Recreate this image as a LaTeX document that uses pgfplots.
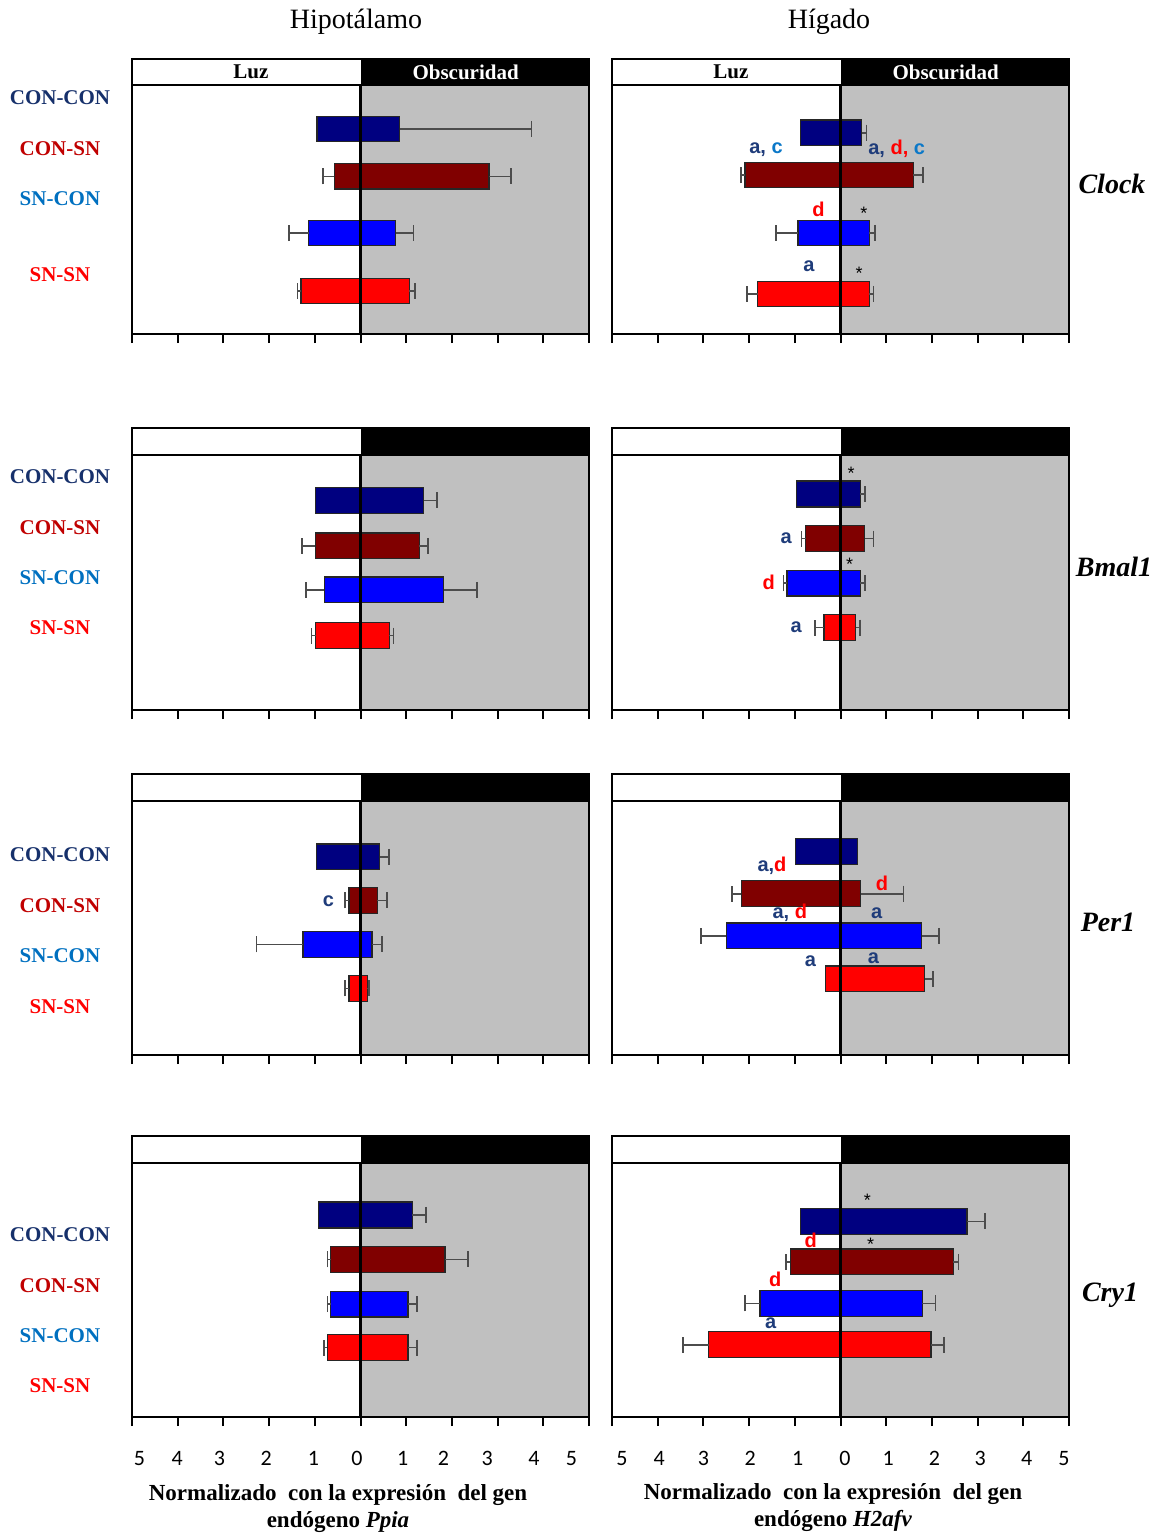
\documentclass[border=0pt]{standalone}
\usepackage{pgfplots}
\pgfplotsset{compat=1.18}
\usepackage{pgfplotstable}
\usepackage{fontspec}
\setmainfont{Liberation Serif}
\newfontfamily\lettersfont{Liberation Sans}
\newfontfamily\tickfont{Carlito}

% bar fills per group: CON-CON, CON-SN, SN-CON, SN-SN
\definecolor{bar0}{HTML}{000080}
\definecolor{bar1}{HTML}{800000}
\definecolor{bar2}{HTML}{0000FF}
\definecolor{bar3}{HTML}{FF0000}
% group name colours
\definecolor{labCC}{HTML}{16306B}
\definecolor{labCS}{HTML}{C00000}
\definecolor{labSC}{HTML}{0070C0}
\definecolor{labSS}{HTML}{FF0000}
% significance letters
\definecolor{letA}{HTML}{1F3C7A}
\definecolor{letC}{HTML}{0B78C8}
\definecolor{letD}{HTML}{FF0000}
\definecolor{darkbg}{HTML}{C0C0C0}

% header (Luz / Obscuridad) depth, in axis units (top = 0, bottom = 1)
\def\hb{0.095}

% columns: y position, light value, light error, dark value, dark error
\pgfplotstableread{
y L Le R Re
0.254 0.95 0.00 0.86 2.88
0.427 0.57 0.25 2.81 0.48
0.633 1.13 0.44 0.77 0.39
0.844 1.30 0.08 1.07 0.12
}\tHipClock
\pgfplotstableread{
y L Le R Re
0.268 0.88 0.00 0.46 0.11
0.422 2.09 0.09 1.59 0.21
0.632 0.93 0.48 0.63 0.12
0.854 1.81 0.24 0.63 0.09
}\tHigClock
\pgfplotstableread{
y L Le R Re
0.257 0.99 0.00 1.38 0.30
0.418 0.99 0.29 1.29 0.19
0.574 0.79 0.40 1.82 0.73
0.736 0.98 0.09 0.63 0.09
}\tHipBmal
\pgfplotstableread{
y L Le R Re
0.234 0.97 0.00 0.43 0.10
0.392 0.76 0.09 0.53 0.19
0.550 1.17 0.08 0.43 0.10
0.708 0.36 0.20 0.33 0.10
}\tHigBmal
\pgfplotstableread{
y L Le R Re
0.295 0.97 0.00 0.42 0.21
0.450 0.25 0.09 0.37 0.21
0.606 1.26 1.02 0.25 0.22
0.763 0.25 0.09 0.15 0.03
}\tHipPer
\pgfplotstableread{
y L Le R Re
0.275 0.98 0.00 0.37 0.00
0.426 2.17 0.21 0.44 0.94
0.576 2.50 0.55 1.78 0.38
0.729 0.32 0.00 1.84 0.18
}\tHigPer
\pgfplotstableread{
y L Le R Re
0.281 0.92 0.00 1.13 0.30
0.439 0.65 0.07 1.85 0.50
0.598 0.65 0.07 1.04 0.20
0.753 0.73 0.07 1.04 0.20
}\tHipCry
\pgfplotstableread{
y L Le R Re
0.304 0.88 0.00 2.77 0.39
0.448 1.10 0.09 2.47 0.11
0.596 1.76 0.33 1.79 0.29
0.743 2.88 0.56 1.98 0.29
}\tHigCry

% shifts one tick label sideways by #1
\newcommand\sh[2]{\hbox to 0pt{\hss\kern#1\relax #2\kern-#1\relax\hss}}

\pgfplotsset{
  panel/.style={
    scale only axis, width=228.5pt,
    xmin=-5, xmax=5, ymin=0, ymax=1, y dir=reverse,
    xtick={-5,...,5}, ytick=\empty, xticklabel=\empty,
    xtick pos=bottom, tick align=outside, major tick length=4.5pt,
    every tick/.style={black, line width=1pt},
    axis line style={line width=1.2pt},
    axis on top, clip=false, anchor=north west,
  },
  bottomrow/.style={
    xticklabel style={font=\tickfont\fontsize{11}{12}\selectfont, yshift=-9pt},
  },
  hbar/.style={
    xbar, bar shift=0pt, bar width=0.092, draw=black!85, line width=0.6pt,
  },
  ebar/.style={
    draw=none, forget plot,
    error bars/error bar style={line width=0.8pt, black!70},
    error bars/error mark options={line width=0.8pt, black!70, mark size=4pt, rotate=90},
  },
}

\newcommand\backdrop{%
  \fill[white] (axis cs:-5,0) rectangle (axis cs:0,\hb);
  \fill[black] (axis cs:0,0) rectangle (axis cs:5,\hb);
  \fill[darkbg] (axis cs:0,\hb) rectangle (axis cs:5,1);
}
\newcommand\dividers{%
  \draw[line width=1.2pt] (axis cs:-5,\hb) -- (axis cs:5,\hb);
  \draw[line width=1.2pt] (axis cs:0,\hb) -- (axis cs:0,1);
}
% light phase to the left (negative), dark phase to the right
\newcommand\bars[1]{%
  \pgfplotsinvokeforeach{0,1,2,3}{%
    \addplot[hbar, fill=bar##1]
      table[x expr=-\thisrow{L}, y=y,
            restrict expr to domain={\coordindex}{##1:##1}] {#1};
    \addplot[hbar, fill=bar##1]
      table[x=R, y=y,
            restrict expr to domain={\coordindex}{##1:##1}] {#1};
  }%
  \addplot[ebar, error bars/.cd, x dir=minus, x explicit]
    table[x expr=-\thisrow{L}, y=y, x error=Le,
          restrict expr to domain={\thisrow{Le}}{0.001:100}] {#1};
  \addplot[ebar, error bars/.cd, x dir=plus, x explicit]
    table[x=R, y=y, x error=Re,
          restrict expr to domain={\thisrow{Re}}{0.001:100}] {#1};
}
\newcommand\lt[1]{{\lettersfont\bfseries\fontsize{10}{11}\selectfont #1}}
\newcommand\st{{\lettersfont\fontsize{9}{10}\selectfont *}}

\begin{document}
\begin{tikzpicture}
\path[use as bounding box] (0,0) rectangle (579.5pt,-769.5pt);

\node[font=\fontsize{14}{16}\selectfont] at (178pt,-11pt) {Hipotálamo};
\node[font=\fontsize{14}{16}\selectfont] at (414.5pt,-11pt) {Hígado};

% group names beside each row
\begin{scope}[every node/.style={font=\bfseries\fontsize{10.5}{12}\selectfont}]
\foreach \ya/\yb/\yc/\yd in {49/74.5/99.5/137.5, 238.5/264/289/314, 427.5/453/478/503.5, 617.5/643/668/693}{
  \node[text=labCC] at (30pt,-\ya pt) {CON-CON};
  \node[text=labCS] at (30pt,-\yb pt) {CON-SN};
  \node[text=labSC] at (30pt,-\yc pt) {SN-CON};
  \node[text=labSS] at (30pt,-\yd pt) {SN-SN};
}
\end{scope}

% gene names
\begin{scope}[every node/.style={font=\bfseries\itshape\fontsize{14}{16}\selectfont}]
\node at (556pt,-92pt) {Clock};
\node at (557pt,-283.5pt) {Bmal1};
\node at (554pt,-461pt) {Per1};
\node at (555pt,-647.5pt) {Cry1};
\end{scope}

% ---------------- Clock ----------------
\begin{axis}[panel, height=137.5pt, at={(66pt,-29.5pt)}]
\backdrop
\bars{\tHipClock}
\dividers
\node[font=\bfseries\fontsize{10.5}{12}\selectfont] at (axis cs:-2.4,\hb/2) {Luz};
\node[font=\bfseries\fontsize{10.5}{12}\selectfont, text=white] at (axis cs:2.3,\hb/2) {Obscuridad};
\end{axis}

\begin{axis}[panel, height=137.5pt, at={(306pt,-29.5pt)}]
\backdrop
\bars{\tHigClock}
\dividers
\node[font=\bfseries\fontsize{10.5}{12}\selectfont] at (axis cs:-2.4,\hb/2) {Luz};
\node[font=\bfseries\fontsize{10.5}{12}\selectfont, text=white] at (axis cs:2.3,\hb/2) {Obscuridad};
\node[text=letA] at (axis cs:-1.63,0.328) {\lt{a, \textcolor{letC}{c}}};
\node[text=letA] at (axis cs:1.23,0.328) {\lt{a, \textcolor{letD}{d,} \textcolor{letC}{c}}};
\node[text=letD] at (axis cs:-0.48,0.545) {\lt{d}};
\node at (axis cs:0.51,0.56) {\st};
\node[text=letA] at (axis cs:-0.69,0.752) {\lt{a}};
\node at (axis cs:0.41,0.78) {\st};
\end{axis}

% ---------------- Bmal1 ----------------
\begin{axis}[panel, height=141pt, at={(66pt,-214pt)}]
\backdrop
\bars{\tHipBmal}
\dividers
\end{axis}

\begin{axis}[panel, height=141pt, at={(306pt,-214pt)}]
\backdrop
\bars{\tHigBmal}
\dividers
\node at (axis cs:0.23,0.16) {\st};
\node[text=letA] at (axis cs:-1.19,0.392) {\lt{a}};
\node at (axis cs:0.20,0.485) {\st};
\node[text=letD] at (axis cs:-1.57,0.546) {\lt{d}};
\node[text=letA] at (axis cs:-0.97,0.706) {\lt{a}};
\end{axis}

% ---------------- Per1 ----------------
\begin{axis}[panel, height=140.5pt, at={(66pt,-387pt)}]
\backdrop
\bars{\tHipPer}
\dividers
\node[text=letA] at (axis cs:-0.70,0.452) {\lt{c}};
\end{axis}

\begin{axis}[panel, height=140.5pt, at={(306pt,-387pt)}]
\backdrop
\bars{\tHigPer}
\dividers
\node[text=letA] at (axis cs:-1.50,0.327) {\lt{a,\textcolor{letD}{d}}};
\node[text=letD] at (axis cs:0.91,0.39) {\lt{d}};
\node[text=letA] at (axis cs:-1.11,0.494) {\lt{a, \textcolor{letD}{d}}};
\node[text=letA] at (axis cs:0.79,0.494) {\lt{a}};
\node[text=letA] at (axis cs:-0.66,0.667) {\lt{a}};
\node[text=letA] at (axis cs:0.72,0.657) {\lt{a}};
\end{axis}

% ---------------- Cry1 ----------------
\begin{axis}[panel, bottomrow, height=140.5pt, at={(66pt,-568pt)},
  xticklabels={\sh{3.7pt}{5},\sh{-0.3pt}{4},\sh{-2pt}{3},\sh{-1.5pt}{2},\sh{-0.7pt}{1},\sh{-1.8pt}{0},
               \sh{-1.7pt}{1},\sh{-4.2pt}{2},\sh{-5.2pt}{3},\sh{-4.7pt}{4},\sh{-8.8pt}{5}}]
\backdrop
\bars{\tHipCry}
\dividers
\end{axis}

\begin{axis}[panel, bottomrow, height=140.5pt, at={(306pt,-568pt)},
  xticklabels={\sh{5pt}{5},\sh{0.8pt}{4},\sh{0pt}{3},\sh{0.5pt}{2},\sh{1.5pt}{1},\sh{2.2pt}{0},
               \sh{1pt}{1},\sh{1.3pt}{2},\sh{1.3pt}{3},\sh{1.7pt}{4},\sh{-2.5pt}{5}}]
\backdrop
\bars{\tHigCry}
\dividers
\node at (axis cs:0.59,0.228) {\st};
\node[text=letD] at (axis cs:-0.65,0.373) {\lt{d}};
\node at (axis cs:0.66,0.387) {\st};
\node[text=letD] at (axis cs:-1.43,0.51) {\lt{d}};
\node[text=letA] at (axis cs:-1.53,0.667) {\lt{a}};
\end{axis}

% horizontal axis titles
\begin{scope}[every node/.style={font=\bfseries\fontsize{11.5}{13}\selectfont}]
\node at (169pt,-747.5pt) {Normalizado\ \ con la expresión\ \ del gen};
\node at (169pt,-761pt) {endógeno \textit{Ppia}};
\node at (416.5pt,-747pt) {Normalizado\ \ con la expresión\ \ del gen};
\node at (416.5pt,-760.5pt) {endógeno \textit{H2afv}};
\end{scope}
\end{tikzpicture}
\end{document}
